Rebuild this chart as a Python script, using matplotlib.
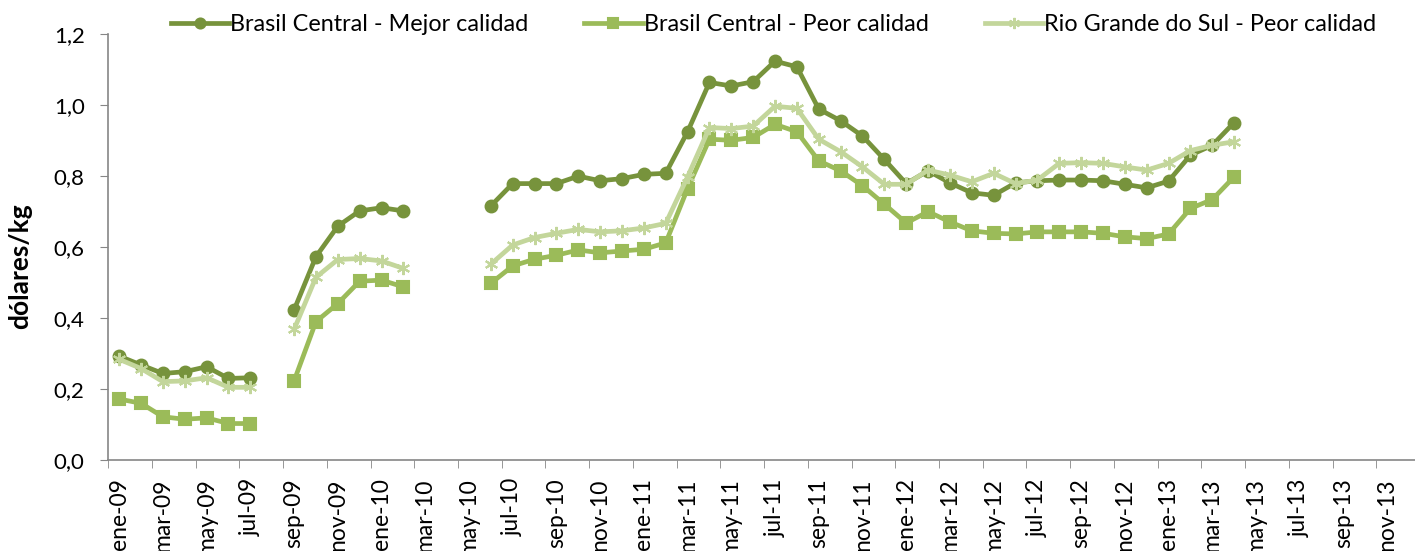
import numpy as np
import matplotlib.pyplot as plt
from matplotlib.lines import Line2D

plt.rcParams['font.family'] = ['Lato', 'DejaVu Sans']

# meses ene-09 .. dic-13
meses_abr = ['ene', 'feb', 'mar', 'abr', 'may', 'jun',
             'jul', 'ago', 'sep', 'oct', 'nov', 'dic']
meses = [f'{m}-{a:02d}' for a in range(9, 14) for m in meses_abr]

nan = np.nan

# Brasil Central - Mejor calidad
mejor_bc = [0.293, 0.268, 0.244, 0.249, 0.263, 0.230, 0.232, nan,
            0.423, 0.573, 0.659, 0.702, 0.711, 0.702, nan, nan, nan,
            0.716, 0.779, 0.779, 0.779, 0.800, 0.787, 0.793, 0.805, 0.808,
            0.925, 1.064, 1.054, 1.066, 1.124, 1.108, 0.989, 0.956, 0.913,
            0.847, 0.779, 0.815, 0.781, 0.753, 0.746, 0.781, 0.787, 0.789,
            0.789, 0.787, 0.777, 0.767, 0.786, 0.859, 0.887, 0.951]

# Brasil Central - Peor calidad
peor_bc = [0.172, 0.160, 0.122, 0.115, 0.119, 0.103, 0.103, nan,
           0.223, 0.390, 0.441, 0.504, 0.507, 0.488, nan, nan, nan,
           0.498, 0.547, 0.566, 0.577, 0.592, 0.584, 0.589, 0.594, 0.612,
           0.765, 0.904, 0.901, 0.909, 0.946, 0.925, 0.843, 0.815, 0.773,
           0.721, 0.668, 0.700, 0.671, 0.646, 0.639, 0.637, 0.643, 0.643,
           0.643, 0.639, 0.629, 0.624, 0.637, 0.709, 0.734, 0.798]

# Rio Grande do Sul - Peor calidad
peor_rgs = [0.284, 0.258, 0.221, 0.223, 0.232, 0.205, 0.205, nan,
            0.368, 0.515, 0.565, 0.568, 0.561, 0.540, nan, nan, nan,
            0.552, 0.606, 0.627, 0.639, 0.650, 0.643, 0.646, 0.654, 0.667,
            0.798, 0.937, 0.934, 0.941, 0.997, 0.991, 0.904, 0.869, 0.826,
            0.777, 0.777, 0.817, 0.803, 0.784, 0.808, 0.779, 0.789, 0.836,
            0.838, 0.836, 0.826, 0.817, 0.836, 0.872, 0.887, 0.897]

series = [
    ('Brasil Central - Mejor calidad', mejor_bc, '#77933C', 'o', 8.5),
    ('Brasil Central - Peor calidad', peor_bc, '#9BBB59', 's', 8.5),
    ('Rio Grande do Sul - Peor calidad', peor_rgs, '#C3D69B', (6, 2, 0), 9.5),
]

fig = plt.figure(figsize=(14.15, 5.51), dpi=100)
ax = fig.add_axes([0.0765, 0.165, 0.927, 0.773])

x = np.arange(len(mejor_bc))
handles = []
for nombre, vals, color, mk, ms in series:
    ax.plot(x, vals, color=color, lw=3.4, marker=mk, ms=ms,
            mfc=color, mec=color, mew=1.5, solid_joinstyle='round')
    handles.append(Line2D([], [], color=color, lw=3.4, marker=mk, ms=ms * 0.85,
                          mfc=color, mec=color, mew=1.5))

ax.set_xlim(-0.5, len(meses) - 0.5)
ax.set_ylim(0, 1.2)
ax.set_yticks(np.arange(0, 1.21, 0.2))
ax.set_yticklabels([f'{v:.1f}'.replace('.', ',') for v in np.arange(0, 1.21, 0.2)])

ax.set_xticks(np.arange(0, len(meses), 2))
ax.set_xticklabels(meses[::2], rotation=90)
ax.set_xticks(np.arange(-0.5, len(meses), 2), minor=True)
ax.tick_params(axis='x', which='major', length=0, pad=13, labelsize=16.5)
ax.tick_params(axis='x', which='minor', length=6, color='#868686')
ax.tick_params(axis='y', length=6, color='#868686', labelsize=16, pad=11)

for s in ['top', 'right']:
    ax.spines[s].set_visible(False)
for s in ['left', 'bottom']:
    ax.spines[s].set_color('#868686')
    ax.spines[s].set_linewidth(1.2)

ax.set_ylabel('dólares/kg', fontsize=19, fontweight='bold')
ax.yaxis.set_label_coords(-0.058, 0.455)

fig.legend(handles, [s[0] for s in series], loc='center', ncol=3,
           bbox_to_anchor=(0.5466, 0.955), frameon=False, fontsize=16.8,
           handlelength=2.5, handletextpad=0.05, columnspacing=2.4)

fig.savefig('out.png', dpi=100)
